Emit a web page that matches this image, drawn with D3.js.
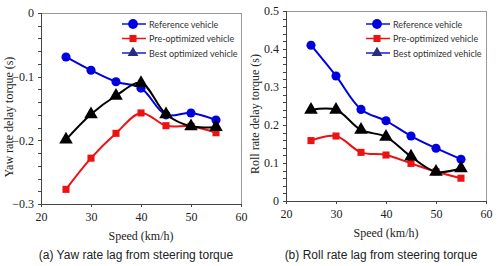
<!DOCTYPE html>
<html lang="en">
  <head>
    <meta charset="UTF-8" />
    <title>Delay torque vs speed</title>
    <script src="https://d3js.org/d3.v7.min.js"></script>
    <style>
      body {
        margin: 0;
        background: #fff;
      }
      .axis path,
      .axis line {
        stroke: #444;
        shape-rendering: crispEdges;
      }
      .legend text {
        font-family: Lato, "Open Sans", sans-serif;
        font-size: 9px;
        fill: #333;
      }
    </style>
  </head>
  <body>
    <script>
      // data
      var speeds = [25, 30, 35, 40, 45, 50, 55];
      var seriesNames = ["Reference vehicle", "Pre-optimized vehicle", "Best optimized vehicle"];

      var yawReference = [-0.069, -0.09, -0.108, -0.118, -0.16, -0.157, -0.168];
      var yawPreOpt = [-0.277, -0.228, -0.189, -0.157, -0.177, -0.178, -0.188];
      var yawBest = [-0.199, -0.159, -0.13, -0.11, -0.159, -0.178, -0.179];

      var rollReference = [0.41, 0.329, 0.241, 0.211, 0.171, 0.139, 0.11];
      var rollPreOpt = [0.159, 0.171, 0.128, 0.121, 0.099, 0.077, 0.06];
      var rollBest = [0.24, 0.24, 0.187, 0.169, 0.117, 0.077, 0.086];

      var xTicks = [20, 30, 40, 50, 60];
      var yawTicks = [0, -0.1, -0.2, -0.3];
      var rollTicks = [0, 0.1, 0.2, 0.3, 0.4, 0.5];

      var colors = ["#0000e0", "#ee1111", "#000000"];
      var shapes = [d3.symbolCircle, d3.symbolSquare, d3.symbolTriangle];
      var sizes = [65, 50, 80];
      var serif = "'Liberation Serif', 'Times New Roman', serif";

      var svg = d3.select("body").append("svg").attr("width", 500).attr("height", 266);

      function drawPanel(opts) {
        var x = d3.scaleLinear().domain([20, 60]).range([opts.left, opts.right]);
        var y = d3.scaleLinear().domain(opts.yDomain).range([opts.bottom, opts.top]);
        var g = svg.append("g");

        // grey frame
        g.append("rect")
          .attr("x", opts.left)
          .attr("y", opts.top)
          .attr("width", opts.right - opts.left)
          .attr("height", opts.bottom - opts.top)
          .attr("fill", "none")
          .attr("stroke", "#999")
          .attr("shape-rendering", "crispEdges");

        // minor y ticks
        var minor = d3.range(opts.yDomain[0], opts.yDomain[1] + 1e-9, 0.02);
        g.append("g")
          .attr("class", "axis")
          .attr("transform", "translate(" + opts.left + ",0)")
          .call(d3.axisLeft(y).tickValues(minor).tickSize(3).tickFormat(""))
          .select(".domain").remove();

        var ya = g.append("g")
          .attr("class", "axis")
          .attr("transform", "translate(" + opts.left + ",0)")
          .call(
            d3.axisLeft(y).tickValues(opts.yTicks).tickSize(3).tickPadding(4)
              .tickFormat(function (d) { return d === 0 ? "0" : d3.format(".1f")(d); })
          );

        var xa = g.append("g")
          .attr("class", "axis")
          .attr("transform", "translate(0," + opts.bottom + ")")
          .call(d3.axisBottom(x).tickValues(xTicks).tickSize(3).tickPadding(5));

        [ya, xa].forEach(function (a) {
          a.attr("font-family", serif).attr("font-size", 12);
          a.selectAll("text").attr("fill", "#222");
        });

        // axis titles
        g.append("text")
          .attr("x", (opts.left + opts.right) / 2)
          .attr("y", opts.bottom + 36)
          .attr("text-anchor", "middle")
          .attr("font-family", serif)
          .attr("font-size", 12)
          .attr("fill", "#222")
          .text("Speed (km/h)");

        g.append("text")
          .attr("transform", "translate(" + opts.yTitleX + "," + opts.yTitleY + ") rotate(-90)")
          .attr("text-anchor", "middle")
          .attr("font-family", serif)
          .attr("font-size", 12)
          .attr("fill", "#222")
          .text(opts.yTitle);

        g.append("text")
          .attr("x", (opts.left + opts.right) / 2 - 5)
          .attr("y", 259)
          .attr("text-anchor", "middle")
          .attr("font-family", "Arial, 'Liberation Sans', sans-serif")
          .attr("font-size", 12)
          .attr("fill", "#222")
          .text(opts.caption);

        var line = d3.line()
          .x(function (d, i) { return x(speeds[i]); })
          .y(function (d) { return y(d); })
          .curve(d3.curveCatmullRom.alpha(0.5));

        opts.series.forEach(function (vals, s) {
          g.append("path")
            .attr("d", line(vals))
            .attr("fill", "none")
            .attr("stroke", colors[s])
            .attr("stroke-width", 2);
        });
        opts.series.forEach(function (vals, s) {
          g.selectAll(null)
            .data(vals)
            .enter()
            .append("path")
            .attr("d", d3.symbol().type(shapes[s]).size(sizes[s]))
            .attr("transform", function (d, i) {
              return "translate(" + x(speeds[i]) + "," + y(d) + ")";
            })
            .attr("fill", colors[s]);
        });

        // legend
        var leg = g.append("g").attr("class", "legend");
        var legLine = ["#1010e0", "#ee1111", "#1a1adf"];
        var legMark = ["#0000e0", "#ee1111", "#2a2a80"];
        seriesNames.forEach(function (name, s) {
          var ly = opts.legY + s * 14.5;
          leg.append("line")
            .attr("x1", opts.legX)
            .attr("x2", opts.legX + 24)
            .attr("y1", ly)
            .attr("y2", ly)
            .attr("stroke", legLine[s])
            .attr("stroke-width", 1.5);
          leg.append("path")
            .attr("d", d3.symbol().type(shapes[s]).size(s === 0 ? 75 : 50))
            .attr("transform", "translate(" + (opts.legX + 11) + "," + ly + ")")
            .attr("fill", legMark[s]);
          leg.append("text")
            .attr("x", opts.legX + 27)
            .attr("y", ly + 3.5)
            .text(name);
        });
      }

      drawPanel({
        left: 41, right: 241, top: 13, bottom: 204,
        yDomain: [-0.3, 0], yTicks: yawTicks,
        yTitle: "Yaw rate delay torque (s)", yTitleX: 13, yTitleY: 117,
        caption: "(a) Yaw rate lag from steering torque",
        series: [yawReference, yawPreOpt, yawBest],
        legX: 122, legY: 24
      });

      drawPanel({
        left: 286, right: 486, top: 11, bottom: 201,
        yDomain: [0, 0.5], yTicks: rollTicks,
        yTitle: "Roll rate delay torque (s)", yTitleX: 259, yTitleY: 114,
        caption: "(b) Roll rate lag from steering torque",
        series: [rollReference, rollPreOpt, rollBest],
        legX: 366, legY: 24
      });
    </script>
  </body>
</html>
